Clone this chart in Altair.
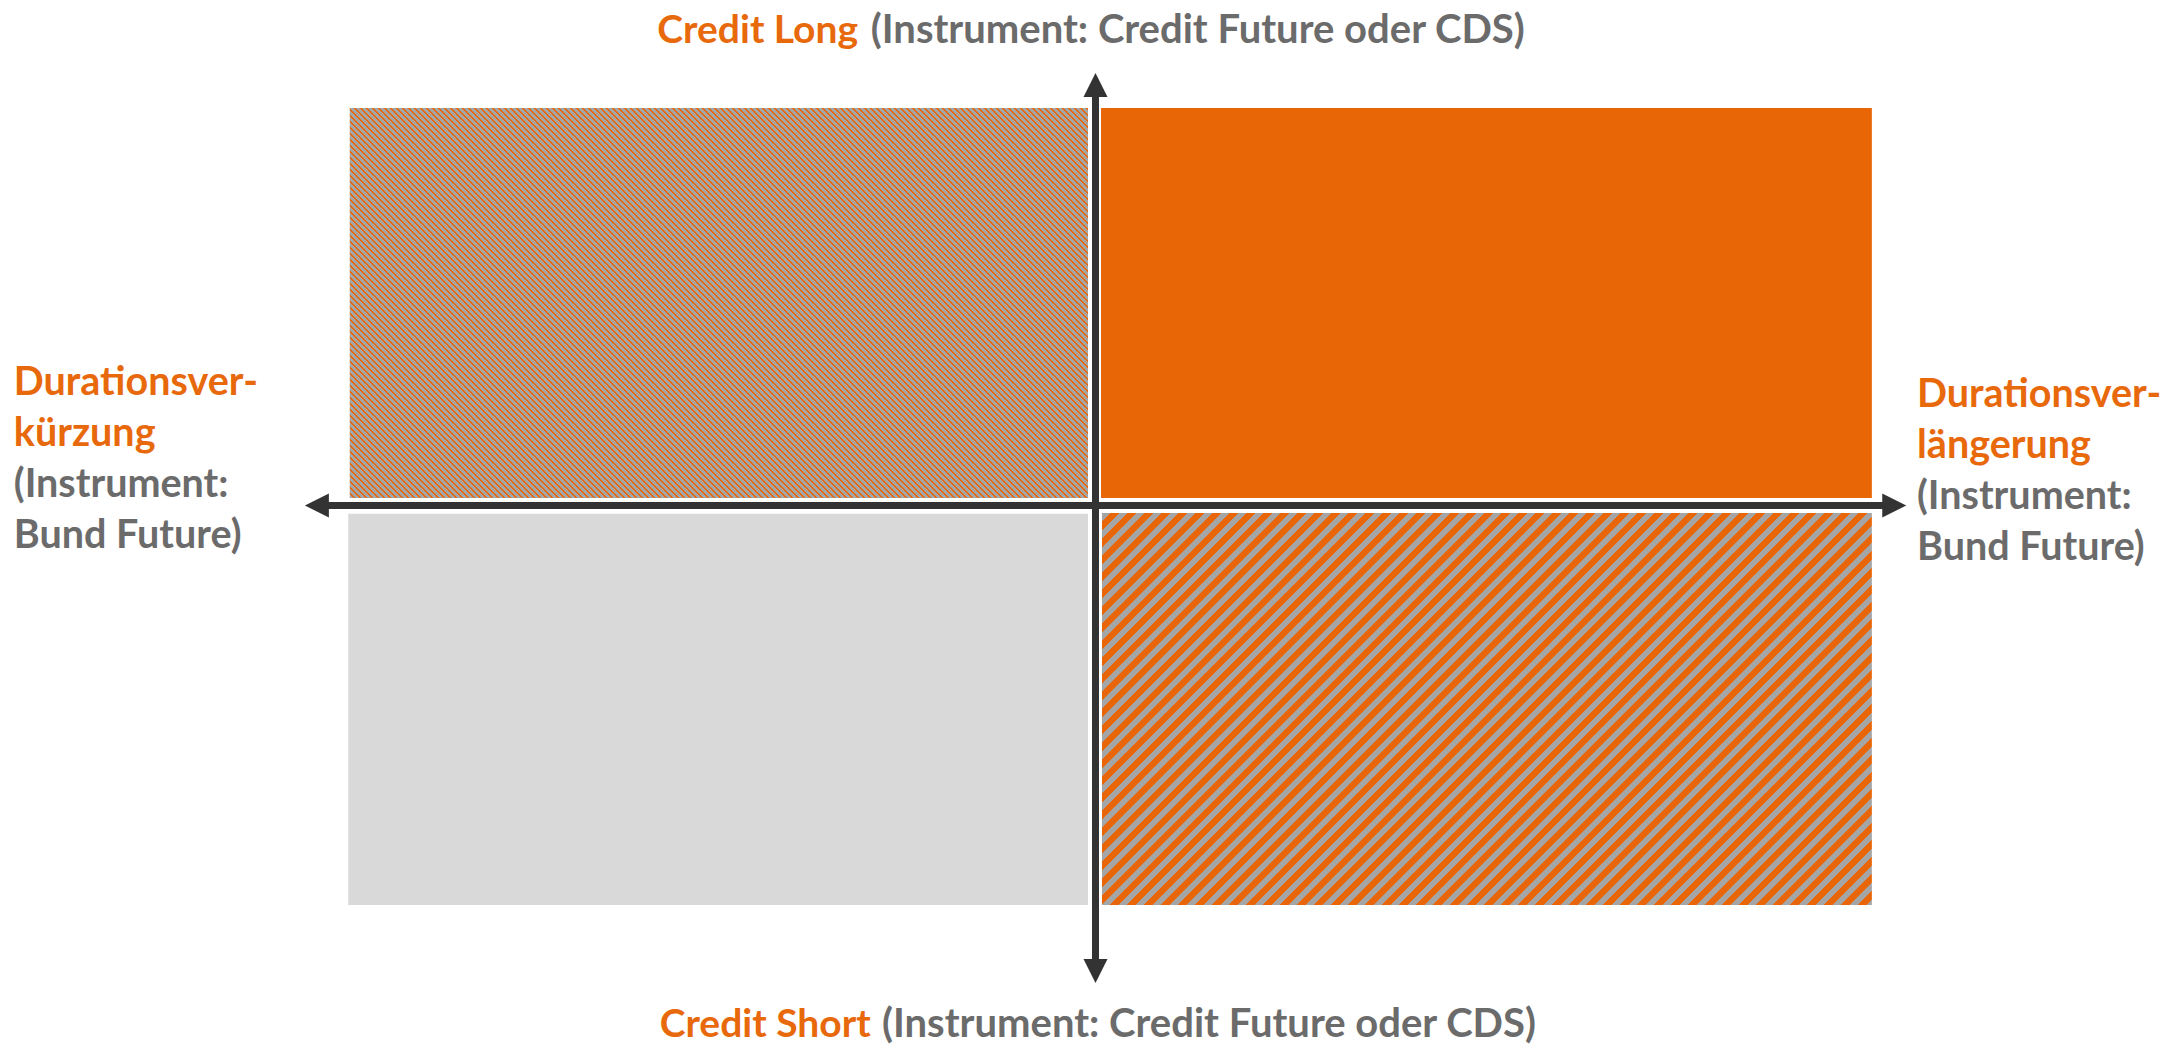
import math
import altair as alt
import pandas as pd

# ---------------- data (logical units, origin = crossing of the two axes) ----------------
quad_id = ["TL", "TR", "BL", "BR"]
quad_x0 = [-99.9, 0.74, -100.1, 0.87]
quad_x1 = [-1.0, 104.0, -1.0, 104.0]
quad_y0 = [1.9, 1.9, -100.5, -100.5]
quad_y1 = [100.0, 100.0, -2.1, -1.9]

axis_x0 = [-104.3, 0.0]
axis_x1 = [107.0, 0.0]
axis_y0 = [0.0, -117.1]
axis_y1 = [0.0, 105.8]

head_x = [0.0, 0.0, -104.3, 107.0]
head_y = [105.8, -117.1, 0.0, 0.0]
head_angle = [0, 180, 270, 90]

title_orange = ["Credit Long", "Credit Short"]
title_orange_x = [-31.8, -30.1]
title_gray = ["(Instrument: Credit Future oder CDS)", "(Instrument: Credit Future oder CDS)"]
title_gray_x = [-30.1, -28.6]
title_y = [116.4, -133.7]

side_text = ["Durationsver-", "kürzung", "(Instrument:", "Bund Future)",
             "Durationsver-", "längerung", "(Instrument:", "Bund Future)"]
side_color = ["orange", "orange", "gray", "gray", "orange", "orange", "gray", "gray"]
side_x = [-144.9] * 4 + [110.05] * 4
side_y = [27.8, 15.0, 2.1, -10.7, 24.8, 12.0, -0.8, -13.7]

# ---------------- styling ----------------
ORANGE = "#E96607"
TEXT_ORANGE = "#E8690C"
GRAY_TEXT = "#6B6B6B"
HATCH_GRAY = "#A5A5A5"
LIGHT = "#D9D9D9"
DARK = "#333333"
FONT = "Lato"
FS_ORANGE_TITLE = 39
FS_GRAY_TITLE = 40
FS_SIDE = 39.5

PX_X = 7.465   # px per unit horizontally
PX_Y = 3.975   # px per unit vertically

xs = alt.Scale(domain=[-100, 100], range=[341, 1834])
ys = alt.Scale(domain=[-100, 100], range=[895, 100])

quads = pd.DataFrame({"id": quad_id, "x0": quad_x0, "x1": quad_x1, "y0": quad_y0, "y1": quad_y1})


def stripes(w, h, pitch_h, frac, direction):
    n = math.ceil((w + h) / pitch_h)
    L = n * pitch_h
    stops = []
    for i in range(n):
        a = i / n
        b = (i + 1 - frac) / n
        c = (i + 1) / n
        stops += [alt.GradientStop(color=HATCH_GRAY, offset=a),
                  alt.GradientStop(color=HATCH_GRAY, offset=b),
                  alt.GradientStop(color=ORANGE, offset=b),
                  alt.GradientStop(color=ORANGE, offset=c)]
    k = L / (w * w + h * h)
    if direction == "down":  # "\" stripes
        return alt.LinearGradient(gradient="linear", stops=stops, x1=0, y1=1, x2=w * k, y2=1 - h * k)
    return alt.LinearGradient(gradient="linear", stops=stops, x1=0, y1=0, x2=w * k, y2=h * k)


def rect_layer(i, fill):
    d = quads.iloc[[i]]
    return alt.Chart(d).mark_rect(fill=fill, stroke=None).encode(
        x=alt.X("x0:Q", scale=xs, axis=None),
        x2="x1:Q",
        y=alt.Y("y0:Q", scale=ys, axis=None),
        y2="y1:Q",
    )


def dims(i):
    return (quad_x1[i] - quad_x0[i]) * PX_X, (quad_y1[i] - quad_y0[i]) * PX_Y


w0, h0 = dims(0)
w3, h3 = dims(3)
tl = rect_layer(0, stripes(w0, h0, 6.0, 0.33, "down"))
tr = rect_layer(1, ORANGE)
bl = rect_layer(2, LIGHT)
br = rect_layer(3, stripes(w3, h3, 17.0, 0.5, "up"))

axes_df = pd.DataFrame({"x0": axis_x0, "x1": axis_x1, "y0": axis_y0, "y1": axis_y1})
axes = alt.Chart(axes_df).mark_rule(color=DARK, strokeWidth=7).encode(
    x=alt.X("x0:Q", scale=xs, axis=None), x2="x1:Q",
    y=alt.Y("y0:Q", scale=ys, axis=None), y2="y1:Q",
)

heads_df = pd.DataFrame({"x": head_x, "y": head_y, "angle": head_angle})
heads = alt.Chart(heads_df).mark_point(
    shape="M-1,1L0,-1L1,1Z", size=576, filled=True, color=DARK, opacity=1, strokeWidth=0
).encode(
    x=alt.X("x:Q", scale=xs, axis=None),
    y=alt.Y("y:Q", scale=ys, axis=None),
    angle=alt.Angle("angle:Q", scale=None),
)

t_or = pd.DataFrame({"text": title_orange, "x": title_orange_x, "y": title_y})
t_gr = pd.DataFrame({"text": title_gray, "x": title_gray_x, "y": title_y})
titles_orange = alt.Chart(t_or).mark_text(
    align="right", baseline="alphabetic", font=FONT, fontWeight="bold",
    fontSize=FS_ORANGE_TITLE, color=TEXT_ORANGE
).encode(x=alt.X("x:Q", scale=xs, axis=None), y=alt.Y("y:Q", scale=ys, axis=None), text="text:N")
titles_gray = alt.Chart(t_gr).mark_text(
    align="left", baseline="alphabetic", font=FONT, fontWeight="bold",
    fontSize=FS_GRAY_TITLE, color=GRAY_TEXT
).encode(x=alt.X("x:Q", scale=xs, axis=None), y=alt.Y("y:Q", scale=ys, axis=None), text="text:N")

side_df = pd.DataFrame({"text": side_text, "x": side_x, "y": side_y,
                        "c": [TEXT_ORANGE if c == "orange" else GRAY_TEXT for c in side_color]})
sides = alt.Chart(side_df).mark_text(
    align="left", baseline="alphabetic", font=FONT, fontWeight="bold", fontSize=FS_SIDE
).encode(
    x=alt.X("x:Q", scale=xs, axis=None), y=alt.Y("y:Q", scale=ys, axis=None),
    text="text:N", color=alt.Color("c:N", scale=None),
)

chart = alt.layer(tl, tr, bl, br, axes, heads, titles_orange, titles_gray, sides).properties(
    width=2160, height=1037, padding=0, autosize=alt.AutoSizeParams(type="none")
).configure_view(stroke=None)

chart.save("out.html", embed_options={"renderer": "svg", "actions": False})
